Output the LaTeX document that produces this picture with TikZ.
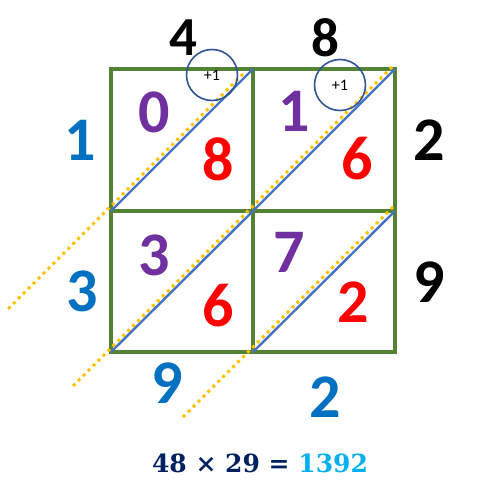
\documentclass[tikz,border=0pt]{standalone}
\usepackage{fontspec}
\setmainfont{Carlito}
\newfontfamily\eqfont{DejaVu Serif}
\usepackage{xcolor}
\usepackage{tikz}
\definecolor{gridgreen}{HTML}{548235}
\definecolor{diagblue}{HTML}{4472C4}
\definecolor{sumyellow}{HTML}{FFC000}
\definecolor{carryblue}{HTML}{2F5597}
\definecolor{tensviolet}{HTML}{7030A0}
\definecolor{unitsred}{HTML}{FF0000}
\definecolor{factorblue}{HTML}{0070C0}
\definecolor{eqnavy}{HTML}{002060}
\definecolor{eqcyan}{HTML}{00B0F0}
\newcommand{\lattproduct}{48 × 29 = {\color{eqcyan}1392}}

\begin{document}
\begin{tikzpicture}[x=1pt,y=-1pt,
  digit/.style={inner sep=0pt,font=\fontsize{62}{62}\selectfont\bfseries},
  topdigit/.style={inner sep=0pt,font=\fontsize{55}{55}\selectfont\bfseries},
  cellline/.style={draw=gridgreen,line width=4pt},
  diag/.style={draw=diagblue,line width=2.4pt},
  sumline/.style={draw=sumyellow,line width=3pt,dash pattern=on 3pt off 4pt},
  carry/.style={circle,draw=carryblue,line width=1.6pt,minimum size=51pt,inner sep=0pt,font=\fontsize{16}{16}\selectfont},
  eqline/.style={inner sep=0pt,text=eqnavy,font=\eqfont\fontsize{25}{25}\selectfont\bfseries}]
\useasboundingbox (0,0) rectangle (480,487);
%%% Draws lattice
% grid corners
\coordinate (c00) at (111,69);
\coordinate (c10) at (253,69);
\coordinate (c20) at (395,69);
\coordinate (c01) at (111,211);
\coordinate (c11) at (253,211);
\coordinate (c21) at (395,211);
\coordinate (c02) at (111,352);
\coordinate (c12) at (253,352);
\coordinate (c22) at (395,352);
% draws cells
\draw[cellline] (c00) rectangle (c22);
\draw[cellline] (c10) -- (c12);
\draw[cellline] (c01) -- (c21);
% draws diagonals
\draw[diag] (c01) -- (c10);
\draw[diag] (c11) -- (c20);
\draw[diag] (c02) -- (c11);
\draw[diag] (c12) -- (c21);
% draws sum lines
\coordinate (s1a) at (243,74);
\coordinate (s1b) at (8,309);
\coordinate (s2a) at (392,67);
\coordinate (s2b) at (72,387);
\coordinate (s3a) at (393,207);
\coordinate (s3b) at (183,417);
\draw[sumline] (s1a) -- (s1b);
\draw[sumline] (s2a) -- (s2b);
\draw[sumline] (s3a) -- (s3b);
%%% Labels factors
% top factor
\node[topdigit] (t4) at (183,38) {4};
\node[topdigit] (t8) at (325,38) {8};
% left factor
\node[digit, text=factorblue] (l1) at (80,140) {1};
\node[digit, text=factorblue] (l3) at (82,291) {3};
% right factor
\node[digit] (r2) at (429,140) {2};
\node[digit] (r9) at (429,282) {9};
%%% Labels cells
\node[digit, text=tensviolet] (a0) at (154,112) {0};
\node[digit, text=unitsred] (a8) at (218,159) {8};
\node[digit, text=tensviolet] (b1) at (294,111) {1};
\node[digit, text=unitsred] (b6) at (357,159) {6};
\node[digit, text=tensviolet] (d3) at (154,255) {3};
\node[digit, text=unitsred] (d6) at (218,306) {6};
\node[digit, text=tensviolet] (e7) at (289,252) {7};
\node[digit, text=unitsred] (e2) at (353,302) {2};
%%% Labels result
\node[digit, text=factorblue] (u9) at (167,383) {9};
\node[digit, text=factorblue] (u2) at (325,397) {2};
% carries
\node[carry] (k1) at (212,75) {+1};
\node[carry] (k2) at (340,85) {+1};
% equation
\node[eqline] (prod) at (260,463) {\lattproduct};
\end{tikzpicture}
\end{document}
